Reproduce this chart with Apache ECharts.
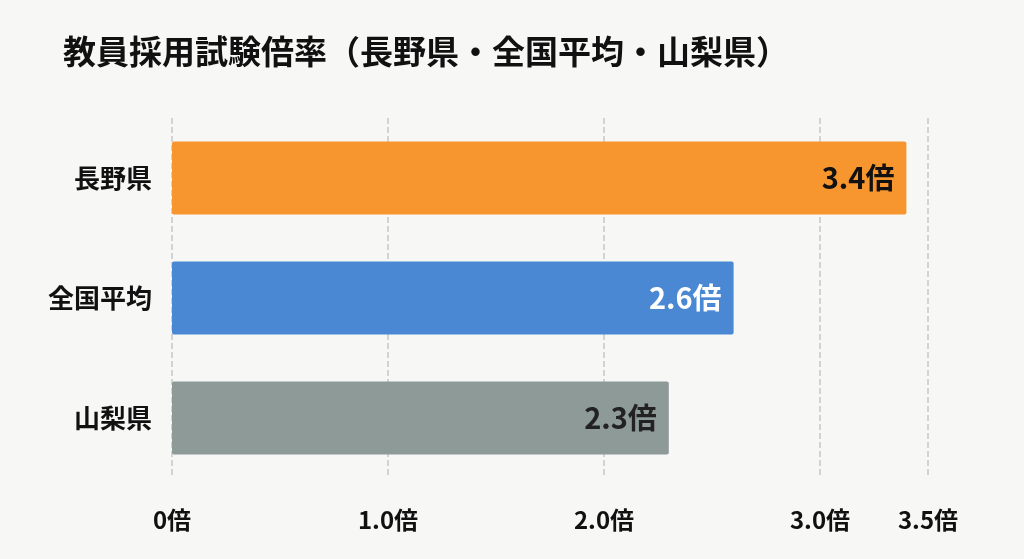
<!DOCTYPE html>
<html>
<head>
<meta charset="utf-8">
<script src="https://cdn.jsdelivr.net/npm/echarts@6/dist/echarts.min.js"></script>
<style>
html,body{margin:0;padding:0;background:#f7f7f6;}
#chart{width:1024px;height:559px;}
</style>
</head>
<body>
<div id="chart"></div>
<script>
// 表示データ
const categories = ['長野県', '全国平均', '山梨県'];
const values = [3.4, 2.6, 2.3];
const barColors = ['#F7962F', '#4A88D4', '#8E9A98'];
const labelColors = ['#111111', '#ffffff', '#222222'];
const tickValues = [0, 1, 2, 3, 3.5];

const font = '"Noto Sans CJK JP", sans-serif';
const chart = echarts.init(document.getElementById('chart'));

chart.setOption({
    backgroundColor: '#f7f7f6',
    title: {
        text: '教員採用試験倍率（長野県・全国平均・山梨県）',
        left: 58,
        top: 30,
        textStyle: { fontFamily: font, fontSize: 33, fontWeight: 'bold', color: '#111' }
    },
    grid: { left: 172, right: 96, top: 118, bottom: 81 },
    xAxis: {
        type: 'value',
        min: 0,
        max: 3.5,
        axisLine: { show: false },
        axisTick: { show: false, customValues: tickValues },
        splitLine: {
            show: true,
            lineStyle: { type: 'dashed', color: '#c8c8c8', width: 1.5 }
        },
        axisLabel: {
            customValues: tickValues,
            margin: 30,
            fontFamily: font,
            fontSize: 24,
            fontWeight: 'bold',
            color: '#111',
            formatter: v => (v === 0 ? '0' : v.toFixed(1)) + '倍'
        }
    },
    yAxis: {
        type: 'category',
        data: categories,
        inverse: true,
        axisLine: { show: false },
        axisTick: { show: false },
        axisLabel: {
            margin: 20,
            fontFamily: font,
            fontSize: 26,
            fontWeight: 'bold',
            color: '#111'
        }
    },
    series: [{
        type: 'bar',
        barWidth: 73,
        data: values.map((v, i) => ({
            value: v,
            itemStyle: { color: barColors[i], borderRadius: 2 },
            label: { color: labelColors[i] }
        })),
        label: {
            show: true,
            position: 'insideRight',
            distance: 12,
            fontFamily: font,
            fontSize: 29,
            fontWeight: 'bold',
            formatter: p => p.value.toFixed(1) + '倍'
        }
    }]
});
</script>
</body>
</html>
